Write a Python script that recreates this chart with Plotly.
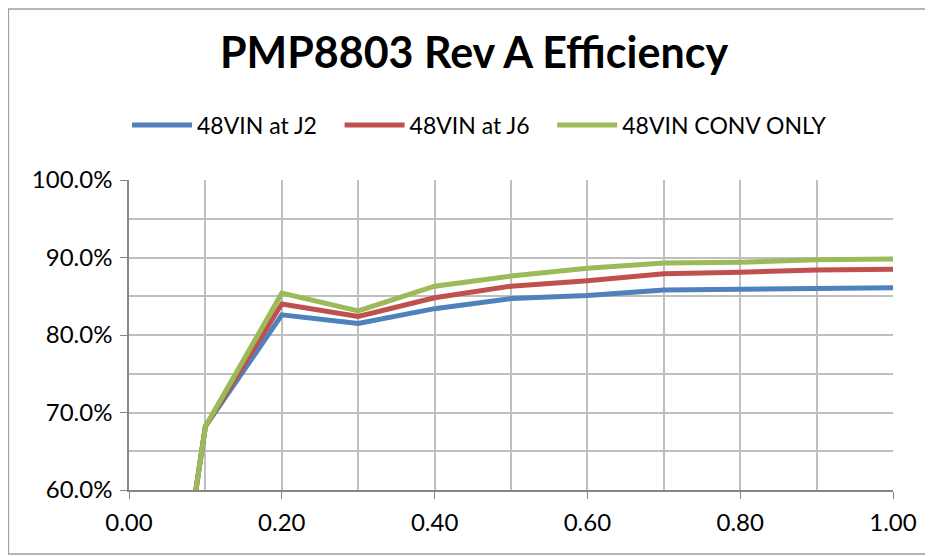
import plotly.graph_objects as go

load = [0.08, 0.1, 0.2, 0.3, 0.4, 0.5, 0.6, 0.7, 0.8, 0.9, 1.0]
eff_j2 = [0.550, 0.682, 0.826, 0.815, 0.834, 0.847, 0.851, 0.858, 0.859, 0.860, 0.861]
eff_j6 = [0.550, 0.682, 0.840, 0.824, 0.848, 0.863, 0.870, 0.879, 0.881, 0.884, 0.885]
eff_conv = [0.550, 0.682, 0.854, 0.831, 0.863, 0.876, 0.886, 0.893, 0.894, 0.897, 0.898]

series_names = ["48VIN at J2", "48VIN at J6", "48VIN CONV ONLY"]
series_vals = [eff_j2, eff_j6, eff_conv]
colors = ["#4F81BD", "#C0504D", "#9BBB59"]

FONT = "Lato"
PAD = "\u00a0" * 3  # extra gap between legend entries

fig = go.Figure()
for i, (name, vals, c) in enumerate(zip(series_names, series_vals, colors)):
    label = name + (PAD if i < len(series_names) - 1 else "")
    fig.add_trace(go.Scatter(x=load, y=vals, mode="lines", name=label,
                             line=dict(color=c, width=5)))

# page has an 8px body margin, so the figure is slightly smaller than the window
W, H = 925, 548
ml, mr, mt, mb = 121, 40, 172, 66
pw, ph = W - ml - mr, H - mt - mb

fig.update_layout(
    width=W, height=H,
    margin=dict(l=ml, r=mr, t=mt, b=mb, autoexpand=False),
    paper_bgcolor="white", plot_bgcolor="white",
    font=dict(family=FONT, color="black", size=23),
    title=dict(text="<b>PMP8803 Rev A Efficiency</b>", x=(474 - 8) / W, xanchor="center",
               y=1 - 45 / H, yanchor="middle", font=dict(family=FONT, size=43, color="black")),
    showlegend=True,
    legend=dict(orientation="h", x=(127 - 8 - ml) / pw, xanchor="left",
                y=(H - mb - 117) / ph, yanchor="middle", font=dict(size=23),
                itemwidth=60, bgcolor="rgba(0,0,0,0)"),
    xaxis=dict(range=[0, 1.0], dtick=0.2, tick0=0, tickformat=".2f",
               showgrid=True, gridcolor="#BFBFBF", gridwidth=1.5,
               minor=dict(dtick=0.1, tick0=0, showgrid=True, gridcolor="#BFBFBF", gridwidth=1.5),
               showline=True, linecolor="#868686", linewidth=1.5,
               ticks="outside", ticklen=7, tickcolor="#868686", ticklabelstandoff=3,
               zeroline=False, tickfont=dict(size=24)),
    yaxis=dict(range=[0.6, 1.0], dtick=0.1, tick0=0.6, tickformat=".1%",
               showgrid=True, gridcolor="#BFBFBF", gridwidth=1.5,
               minor=dict(dtick=0.05, tick0=0.6, showgrid=True, gridcolor="#BFBFBF", gridwidth=1.5),
               showline=True, linecolor="#868686", linewidth=1.5,
               ticks="outside", ticklen=7, tickcolor="#868686", ticklabelstandoff=3,
               zeroline=False, tickfont=dict(size=24)),
    shapes=[dict(type="rect", xref="paper", yref="paper",
                 x0=-ml / pw + 0.0005, x1=(W - 1 - ml) / pw,
                 y0=-(mb - 2) / ph, y1=(H - mb - 1) / ph,
                 line=dict(color="#A0A0A0", width=1.5), fillcolor="rgba(0,0,0,0)", layer="below")],
)

fig.write_html("out.html")
